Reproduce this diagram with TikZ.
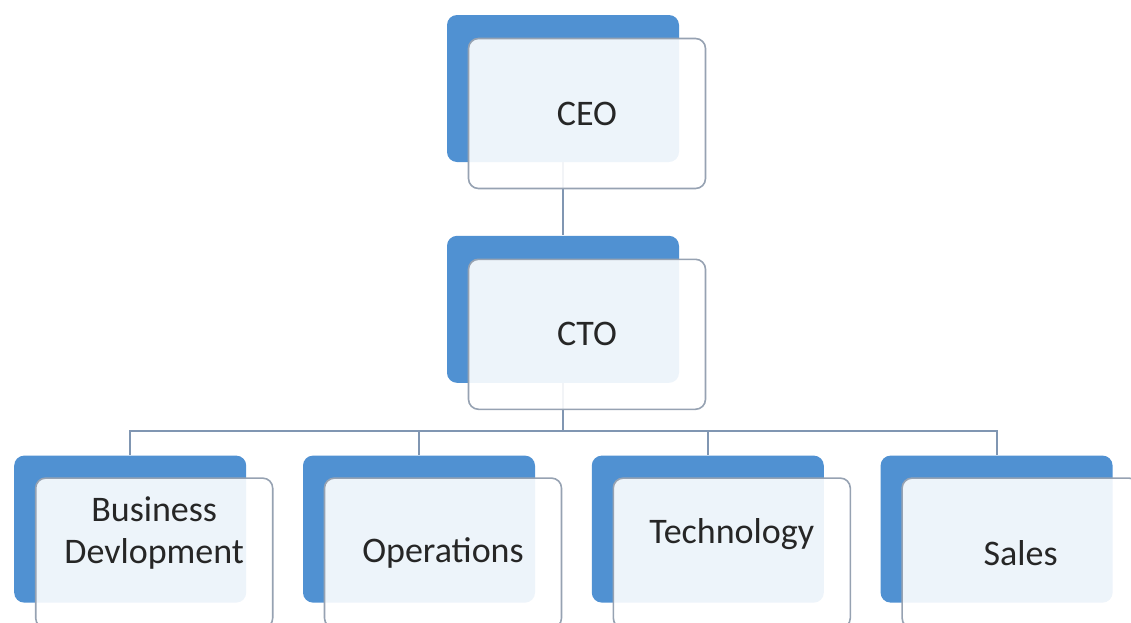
\documentclass[tikz,border=0pt]{standalone}
\usepackage{fontspec}
\setmainfont{Carlito}
\usetikzlibrary{positioning}
\definecolor{boxblue}{RGB}{80,145,210}
\definecolor{edgegray}{RGB}{150,162,178}
\definecolor{linkblue}{RGB}{128,150,178}

\begin{document}
\begin{tikzpicture}[x=0.5pt, y=-0.5pt,
            back/.style={fill=boxblue, rounded corners=5pt, minimum width=116pt, minimum height=73.5pt, inner sep=0pt},
            front/.style={draw=edgegray, line width=0.8pt, fill=white, fill opacity=0.9, text opacity=1, text=black!85, rounded corners=5pt, minimum width=118.5pt, minimum height=75pt, inner sep=0pt, align=center, font=\fontsize{18pt}{21pt}\selectfont},
            link/.style={draw=linkblue, line width=1pt},
            node distance=36.5pt
        ]
            \useasboundingbox (0,0) rectangle (1131,622);
            \clip (0,0) rectangle (1131,622);

            % blue boxes behind
            \node[back] (ceoback) at (563,88.5) {};
            \node[back, below=of ceoback] (ctoback) {};
            \node[back, below=36pt of ctoback, xshift=-72pt] (opsback) {};
            \node[back, left=28pt of opsback] (bdback) {};
            \node[back, right=28pt of opsback] (techback) {};
            \node[back, right=28pt of techback] (salesback) {};

            % connectors
            \coordinate[below=24pt of ctoback] (bus);
            \draw[link] (ceoback) -- (ctoback);
            \draw[link] (ctoback) -- (bus);
            \draw[link] (bus) -| (bdback);
            \draw[link] (bus) -| (opsback);
            \draw[link] (bus) -| (techback);
            \draw[link] (bus) -| (salesback);

            % text boxes in front
            \node[front] (ceo) at ([shift={(12pt,-12.5pt)}]ceoback.center) {CEO};
            \node[front] (cto) at ([shift={(12pt,-12.5pt)}]ctoback.center) {CTO};
            \node[front, text depth=22.5pt] (bd) at ([shift={(12pt,-12pt)}]bdback.center) {Business\\Devlopment};
            \node[front] (ops) at ([shift={(12pt,-12pt)}]opsback.center) {Operations};
            \node[front, text depth=22.5pt] (tech) at ([shift={(12pt,-12pt)}]techback.center) {Technology};
            \node[front] (sales) at ([shift={(12pt,-12pt)}]salesback.center) {Sales};
        \end{tikzpicture}
\end{document}
